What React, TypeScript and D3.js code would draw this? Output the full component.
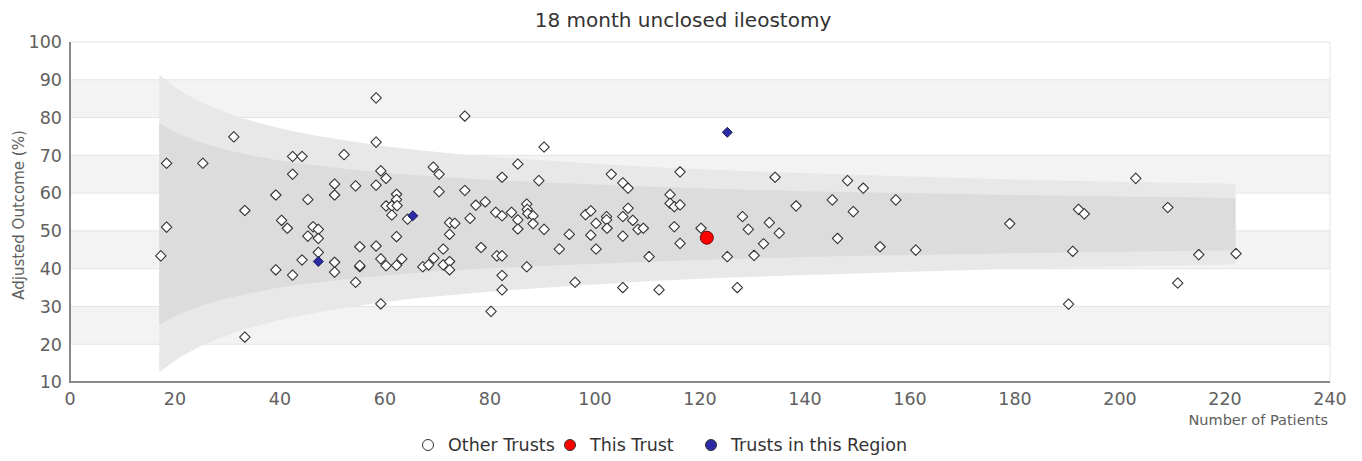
import { useEffect, useRef } from "react";
import * as d3 from "d3";

const width = 1362;
const height = 461;
const left = 70;
const right = 1330;
const top = 42;
const bottom = 382;

const title = "18 month unclosed ileostomy";
const xTicks = [0, 20, 40, 60, 80, 100, 120, 140, 160, 180, 200, 220, 240];
const yTicks = [10, 20, 30, 40, 50, 60, 70, 80, 90, 100];
const bandRanges = [[20, 30], [40, 50], [60, 70], [80, 90]];

// funnel limits
const funnelN = [17, 20, 25, 30, 35, 40, 50, 60, 70, 80, 100, 120, 140, 160, 180, 200, 222];
const innerUpper = [78.5, 76.2, 73.4, 71.4, 69.9, 68.6, 66.8, 65.4, 64.3, 63.5, 62.3, 61.3, 60.5, 60.0, 59.5, 59.1, 58.7];
const innerLower = [25.1, 27.4, 30.2, 32.2, 33.7, 35.0, 36.8, 38.2, 39.3, 40.1, 41.3, 42.3, 43.1, 43.6, 44.1, 44.5, 44.9];
const outerUpper = [91.3, 88.0, 84.1, 81.2, 79.0, 77.2, 74.5, 72.4, 70.9, 69.7, 67.8, 66.3, 65.3, 64.4, 63.6, 63.0, 62.5];
const outerLower = [12.5, 15.6, 19.5, 22.4, 24.6, 26.4, 29.1, 31.2, 32.7, 33.9, 35.8, 37.3, 38.3, 39.2, 40.0, 40.6, 41.1];

const otherPatients = [
  17.3, 18.4, 18.4, 25.3, 31.2, 33.3, 33.3, 39.2, 39.2, 40.3, 41.4, 42.4, 44.2, 42.4, 42.4, 44.2,
  45.3, 45.3, 46.3, 47.3, 47.3, 47.3, 50.4, 50.4, 50.4, 50.4, 52.2, 54.4, 54.4, 55.2, 55.2, 55.2,
  58.3, 58.3, 58.3, 58.3, 59.2, 59.2, 59.2, 60.2, 60.2, 60.2, 61.3, 61.3, 62.2, 62.2, 62.3, 62.2,
  62.2, 63.2, 64.3, 67.2, 68.3, 69.3, 69.2, 70.3, 70.3, 71.1, 71.1, 72.3, 72.3, 72.3, 73.3, 72.3,
  75.2, 75.2, 76.2, 77.3, 78.3, 79.1, 80.2, 81.1, 82.3, 82.3, 81.3, 82.3, 82.3, 82.3, 84.1, 85.3,
  85.3, 85.3, 87.0, 87.1, 87.2, 88.2, 88.2, 87.0, 89.3, 90.3, 90.3, 93.2, 95.1, 96.2, 98.2, 99.2,
  99.2, 100.2, 100.2, 102.2, 102.2, 102.3, 103.1, 105.3, 106.3, 105.3, 106.3, 105.3, 105.3, 107.2,
  108.2, 109.2, 110.3, 112.2, 114.3, 114.3, 115.1, 116.2, 116.2, 115.1, 116.2, 120.2, 125.2, 127.1,
  128.1, 129.2, 130.3, 132.1, 133.2, 134.3, 135.1, 138.3, 145.2, 146.2, 148.1, 149.2, 151.1, 154.3,
  157.3, 161.1, 179.0, 190.2, 191.0, 192.1, 193.2, 203.0, 209.1, 211.0, 215.0, 222.1,
];
const otherOutcome = [
  43.4, 67.9, 51.0, 67.9, 74.9, 55.4, 21.9, 59.5, 39.7, 52.8, 50.7, 69.7, 69.7, 65.0, 38.3, 42.3,
  58.3, 48.6, 51.1, 50.4, 48.0, 44.3, 62.4, 59.5, 41.7, 39.1, 70.2, 61.9, 36.4, 45.8, 40.5, 40.8,
  85.2, 73.5, 62.1, 46.0, 65.9, 42.6, 30.7, 63.9, 56.6, 40.8, 56.6, 54.2, 59.7, 58.3, 56.7, 48.5,
  40.9, 42.6, 53.1, 40.5, 41.0, 42.8, 66.9, 65.0, 60.4, 45.2, 41.0, 41.9, 39.7, 52.2, 52.0, 49.1,
  80.4, 60.7, 53.3, 56.8, 45.6, 57.7, 28.7, 54.9, 54.0, 64.2, 43.4, 43.4, 38.2, 34.4, 54.9, 67.7,
  52.9, 50.5, 57.1, 55.7, 54.6, 54.0, 51.9, 40.5, 63.3, 72.2, 50.4, 45.2, 49.1, 36.4, 54.3, 55.3,
  48.9, 52.0, 45.2, 53.8, 52.9, 50.7, 65.0, 62.7, 61.3, 53.8, 56.0, 48.6, 35.0, 52.8,
  50.4, 50.7, 43.2, 34.4, 59.6, 57.3, 56.4, 56.9, 65.6, 51.1, 46.7, 50.7, 43.2, 35.0,
  53.8, 50.4, 43.5, 46.6, 52.2, 64.2, 49.4, 56.6, 58.2, 48.0, 63.3, 55.1, 61.3, 45.8,
  58.2, 44.9, 51.9, 30.6, 44.6, 55.7, 54.5, 63.9, 56.2, 36.2, 43.7, 44.0,
];
const regionPatients = [47.3, 65.3, 125.2];
const regionOutcome = [41.9, 54.0, 76.1];
const thisPatients = [121.3];
const thisOutcome = [48.2];

const legendItems = ["Other Trusts", "This Trust", "Trusts in this Region"];
const legendColors = ["#ffffff", "#ff0000", "#2b2ba6"];

const font = "DejaVu Sans, sans-serif";

const FunnelChart = () => {
  const svgRef = useRef<SVGSVGElement>(null);

  useEffect(() => {
    document.body.style.margin = "0";
    const svg = d3.select(svgRef.current);
    svg.selectAll("*").remove();

    const x = d3.scaleLinear().domain([0, 240]).range([left, right]);
    const y = d3.scaleLinear().domain([10, 100]).range([bottom, top]);

    svg.append("rect").attr("width", width).attr("height", height).attr("fill", "#fff");

    // alternating bands
    svg
      .selectAll(".band")
      .data(bandRanges)
      .join("rect")
      .attr("x", left)
      .attr("width", right - left)
      .attr("y", (d) => y(d[1]))
      .attr("height", (d) => y(d[0]) - y(d[1]))
      .attr("fill", "#f3f3f3");

    svg
      .selectAll(".grid")
      .data(yTicks)
      .join("line")
      .attr("x1", left)
      .attr("x2", right)
      .attr("y1", (d) => y(d))
      .attr("y2", (d) => y(d))
      .attr("stroke", "#e4e4e4")
      .attr("stroke-width", 1);

    svg
      .append("line")
      .attr("x1", right)
      .attr("x2", right)
      .attr("y1", top)
      .attr("y2", bottom)
      .attr("stroke", "#e4e4e4");

    // funnel
    const idx = funnelN.map((_, i) => i);
    const areaOf = (hi: number[], lo: number[]) =>
      d3
        .area<number>()
        .x((i) => x(funnelN[i]))
        .y0((i) => y(lo[i]))
        .y1((i) => y(hi[i]))
        .curve(d3.curveMonotoneX)(idx);
    svg.append("path").attr("d", areaOf(outerUpper, outerLower)).attr("fill", "#e8e8e8");
    svg.append("path").attr("d", areaOf(innerUpper, innerLower)).attr("fill", "#dcdcdc");

    // axes
    svg
      .append("line")
      .attr("x1", left)
      .attr("x2", left)
      .attr("y1", top)
      .attr("y2", bottom)
      .attr("stroke", "#888")
      .attr("stroke-width", 2);
    svg
      .append("line")
      .attr("x1", left - 1)
      .attr("x2", right)
      .attr("y1", bottom)
      .attr("y2", bottom)
      .attr("stroke", "#888")
      .attr("stroke-width", 2);

    svg
      .selectAll(".ytick")
      .data(yTicks)
      .join("text")
      .attr("x", left - 8)
      .attr("y", (d) => y(d))
      .attr("dy", "0.36em")
      .attr("text-anchor", "end")
      .attr("font-family", font)
      .attr("font-size", 17.5)
      .attr("fill", "#606060")
      .text((d) => d);

    svg
      .selectAll(".xtick")
      .data(xTicks)
      .join("text")
      .attr("x", (d) => x(d))
      .attr("y", bottom + 23)
      .attr("text-anchor", "middle")
      .attr("font-family", font)
      .attr("font-size", 17.5)
      .attr("fill", "#606060")
      .text((d) => d);

    svg
      .append("text")
      .attr("x", 683)
      .attr("y", 27)
      .attr("text-anchor", "middle")
      .attr("font-family", font)
      .attr("font-size", 20)
      .attr("fill", "#333")
      .text(title);

    svg
      .append("text")
      .attr("transform", `translate(24,${(top + bottom) / 2 + 3}) rotate(-90)`)
      .attr("text-anchor", "middle")
      .attr("font-family", font)
      .attr("font-size", 15)
      .attr("fill", "#606060")
      .text("Adjusted Outcome (%)");

    svg
      .append("text")
      .attr("x", 1328)
      .attr("y", 425)
      .attr("text-anchor", "end")
      .attr("font-family", font)
      .attr("font-size", 14.5)
      .attr("fill", "#606060")
      .text("Number of Patients");

    // points
    const diamond = (s: number) => `M0,${-s}L${s},0L0,${s}L${-s},0Z`;
    svg
      .selectAll(".other")
      .data(otherPatients)
      .join("path")
      .attr("d", diamond(5.2))
      .attr("transform", (d, i) => `translate(${x(d)},${y(otherOutcome[i])})`)
      .attr("fill", "#fff")
      .attr("stroke", "#333")
      .attr("stroke-width", 1.1)
      .attr("stroke-linejoin", "round");

    svg
      .selectAll(".region")
      .data(regionPatients)
      .join("path")
      .attr("d", diamond(5))
      .attr("transform", (d, i) => `translate(${x(d)},${y(regionOutcome[i])})`)
      .attr("fill", legendColors[2])
      .attr("stroke", "#1a1a55")
      .attr("stroke-width", 1)
      .attr("stroke-linejoin", "round");

    svg
      .selectAll(".this")
      .data(thisPatients)
      .join("circle")
      .attr("cx", (d) => x(d))
      .attr("cy", (d, i) => y(thisOutcome[i]))
      .attr("r", 6.5)
      .attr("fill", legendColors[1])
      .attr("stroke", "#700")
      .attr("stroke-width", 1);

    // legend
    const legendX = [428, 570, 711];
    const legend = svg
      .selectAll(".legend")
      .data(legendItems)
      .join("g")
      .attr("transform", (d, i) => `translate(${legendX[i]},445)`);
    legend
      .append("circle")
      .attr("r", 5.5)
      .attr("fill", (d, i) => legendColors[i])
      .attr("stroke", "#333")
      .attr("stroke-width", 1);
    legend
      .append("text")
      .attr("x", 20)
      .attr("dy", "0.36em")
      .attr("font-family", font)
      .attr("font-size", 17.5)
      .attr("fill", "#333")
      .text((d) => d);
  }, []);

  return <svg ref={svgRef} width={width} height={height} style={{ display: "block" }} />;
};

export default FunnelChart;
